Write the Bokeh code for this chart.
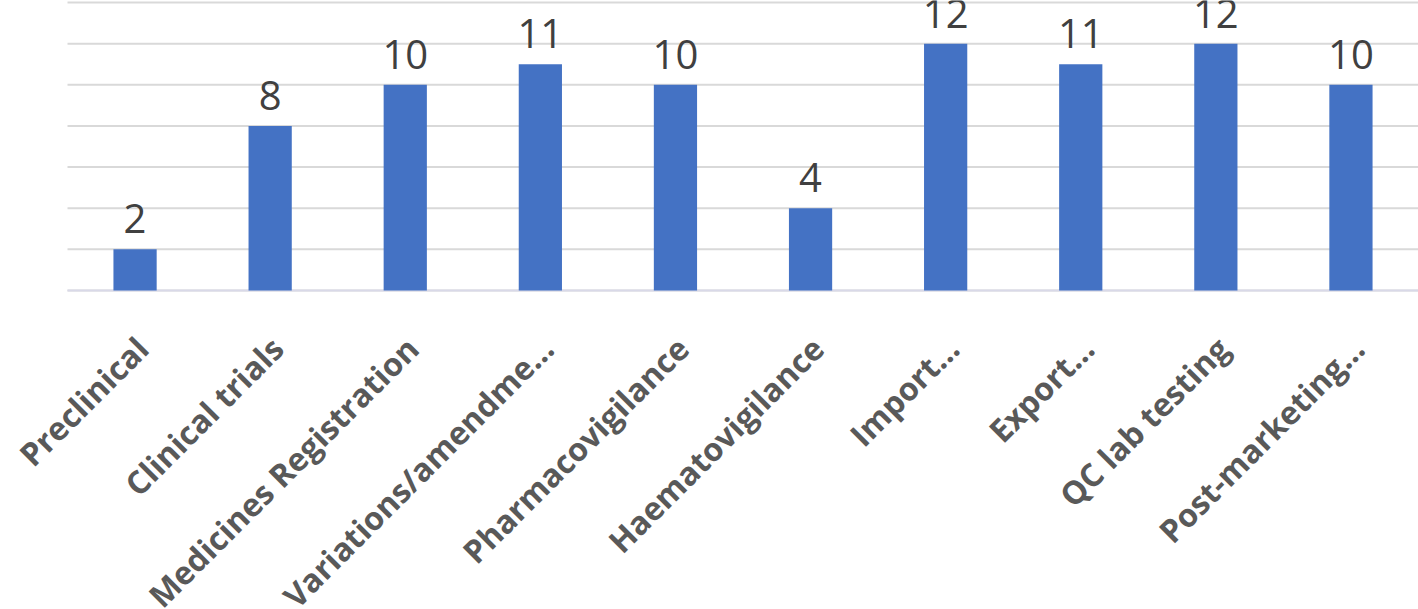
import math
from bokeh.plotting import figure
from bokeh.models import ColumnDataSource, Range1d, LabelSet
from bokeh.core.properties import value
from bokeh.embed import file_html
from bokeh.resources import INLINE

categories = ["Preclinical", "Clinical trials", "Medicines Registration",
              "Variations/amendme\u2026", "Pharmacovigilance", "Haematovigilance",
              "Import\u2026", "Export\u2026", "QC lab testing", "Post-marketing\u2026"]
counts = [2, 8, 10, 11, 10, 4, 12, 11, 12, 10]
y_ticks = [0, 2, 4, 6, 8, 10, 12, 14]

n = len(categories)
# each category occupies one unit band; its centre is index + 0.5
centres = [i + 0.5 for i in range(n)]

source = ColumnDataSource(dict(x=centres, cat=categories, val=counts,
                               lab=[str(v) for v in counts], zero=[0] * n))
grid_src = ColumnDataSource(dict(y=y_ticks, x0=[0] * len(y_ticks), x1=[n] * len(y_ticks)))

# the frame covers the whole canvas so that the rotated category labels are not clipped
p = figure(x_range=Range1d(-0.496, n), y_range=Range1d(-15.51, 14.1),
           width=1418, height=609, output_backend="svg", toolbar_location=None,
           min_border_left=0, min_border_right=0, min_border_top=0, min_border_bottom=0)

p.segment(x0="x0", x1="x1", y0="y", y1="y", source=grid_src,
          line_color="#d9d9d9", line_width=2)
p.segment(x0=[0], x1=[n], y0=[y_ticks[0]], y1=[y_ticks[0]],
          line_color="#d9d9e8", line_width=2)

p.vbar(x="x", top="val", width=0.32, source=source, fill_color="#4472C4", line_color=None)

p.text(x="x", y="val", text="lab", source=source, text_align="center",
       text_baseline="bottom", y_offset=-16, text_font=value("Open Sans"),
       text_font_size="40px", text_color="#404040")

cat_labels = LabelSet(x="x", y="zero", text="cat", source=source, angle=math.pi / 4,
                      text_align="right", text_baseline="middle", x_offset=7, y_offset=-52,
                      text_font=value("Open Sans"), text_font_style="bold",
                      text_font_size="32px", text_color="#595959")
p.add_layout(cat_labels)

p.xaxis.visible = False
p.yaxis.visible = False
p.xgrid.grid_line_color = None
p.ygrid.grid_line_color = None
p.outline_line_color = None

open("out.html", "w").write(file_html(p, INLINE))
